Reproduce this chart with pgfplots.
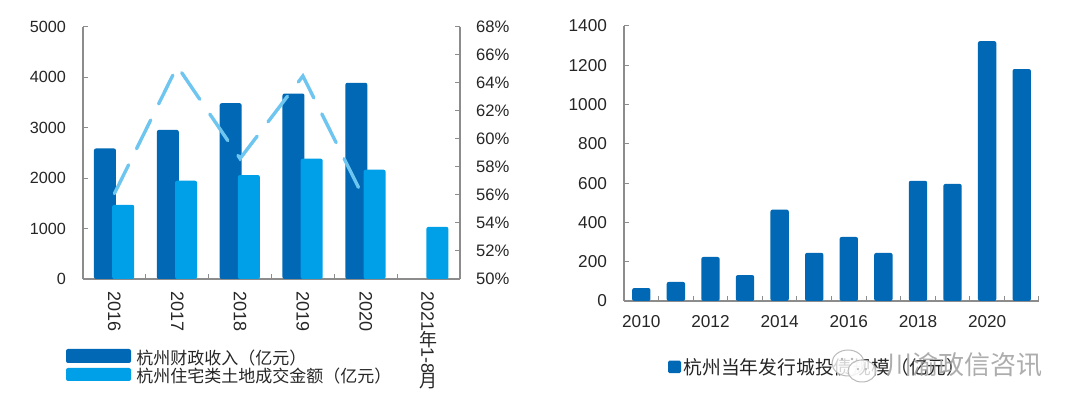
\documentclass[border=0pt]{standalone}
\usepackage{fontspec}
\setmainfont{Liberation Sans}
\newfontfamily\cjk{Noto Sans CJK SC}
\usepackage{graphicx}
\usepackage{pgfplots}
\pgfplotsset{compat=1.18}
\definecolor{darkb}{HTML}{0068B5}
\definecolor{lightb}{HTML}{00A0E9}
\definecolor{lineb}{HTML}{6EC6F0}
\definecolor{axisg}{HTML}{8C8C8C}
\definecolor{txt}{HTML}{262626}
\pgfplotsset{
  common/.style={
    scale only axis,
    anchor=south west,
    axis line style={draw=axisg, line width=0.6pt},
    tick style={draw=axisg, line width=0.5pt},
    major tick length=2.4pt,
    minor tick length=2.4pt,
    /pgf/number format/assume math mode=true,
    /pgf/number format/1000 sep={},
    tick label style={text=txt},
    clip=false,
  }
}
\begin{document}
\begin{tikzpicture}
\path[use as bounding box] (0,0) rectangle (540pt,205.5pt);

% ---------- left chart: bars ----------
\begin{axis}[common,
  at={(41.5pt,66pt)}, width=188.5pt, height=126pt,
  xmin=-0.5, xmax=5.5, ymin=0, ymax=5000,
  axis y line*=left, axis x line*=bottom,
  ytick={0,1000,...,5000},
  yticklabel style={font=\fontsize{8.1}{9}\selectfont, xshift=-5pt},
  xtick={0,...,5},
  xticklabels={2016,2017,2018,2019,2020,{2021\raisebox{-0.1em}{\rotatebox{90}{\cjk 年}}1-8\raisebox{-0.1em}{\rotatebox{90}{\cjk 月}}}},
  xticklabel style={font=\fontsize{9}{10}\selectfont, yshift=-2.5pt, rotate=-90, anchor=west},
  major x tick style={draw=none},
  minor xtick={0.5,1.5,...,4.5},
]
\addplot[ybar, bar width=0.35, bar shift=-0.15, fill=darkb, draw=none, rounded corners=1pt]
  coordinates {(0,2590) (1,2957) (2,3488) (3,3680) (4,3893)};
\addplot[ybar, bar width=0.35, bar shift=0.14, fill=lightb, draw=none, rounded corners=1pt]
  coordinates {(0,1472) (1,1950) (2,2062) (3,2387) (4,2168) (5,1034)};
\end{axis}

% ---------- left chart: ratio line ----------
\begin{axis}[common,
  at={(41.5pt,66pt)}, width=188.5pt, height=126pt,
  xmin=-0.5, xmax=5.5, ymin=50, ymax=68,
  axis y line*=right, axis x line=none,
  ytick={50,52,...,68},
  yticklabel={\pgfmathprintnumber{\tick}\%},
  yticklabel style={font=\fontsize{8.3}{9}\selectfont, xshift=4.5pt},
]
\addplot[lineb, line width=1.7pt, line cap=round, dash pattern=on 16pt off 9pt]
  coordinates {(0,56.1) (1,65.2) (2,58.6) (3,64.5) (4,55.5)};
\end{axis}

% legend (left)
\fill[darkb, rounded corners=1pt] (33pt,24pt) rectangle (65.5pt,31pt);
\fill[lightb, rounded corners=1pt] (33pt,15pt) rectangle (65.5pt,21.5pt);
\node[anchor=west, inner sep=0pt, text=txt, font=\cjk\fontsize{8.5}{9}\selectfont] at (68pt,26.7pt) {杭州财政收入（亿元）};
\node[anchor=west, inner sep=0pt, text=txt, font=\cjk\fontsize{8.5}{9}\selectfont] at (68pt,17.3pt) {杭州住宅类土地成交金额（亿元）};

% ---------- right chart ----------
\begin{axis}[common,
  at={(312pt,55pt)}, width=207.5pt, height=137.5pt,
  xmin=2009.5, xmax=2021.5, ymin=0, ymax=1400,
  axis y line*=left, axis x line*=bottom,
  ytick={0,200,...,1400},
  yticklabel style={font=\fontsize{8.6}{9}\selectfont, xshift=-5pt},
  xtick={2010,2012,...,2020},
  xticklabel style={font=\fontsize{8.6}{9}\selectfont, yshift=-3.5pt},
  major x tick style={draw=none},
  minor xtick={2010.5,2011.5,...,2021.5},
]
\addplot[ybar, bar width=0.53, fill=darkb, draw=none, rounded corners=1pt]
  coordinates {(2010,66) (2011,97) (2012,224) (2013,132) (2014,465) (2015,245)
               (2016,326) (2017,245) (2018,612) (2019,596) (2020,1323) (2021,1181)};
\end{axis}

% legend (right)
\fill[darkb, rounded corners=0.8pt] (334pt,18.9pt) rectangle (340.5pt,25.2pt);
\node[anchor=west, inner sep=0pt, text=txt, font=\cjk\fontsize{9.4}{10}\selectfont] at (341.5pt,22pt) {杭州当年发行城投债规模（亿元）};

% watermark
\begin{scope}[draw=gray!55, line width=0.5pt]
\filldraw[fill=white, fill opacity=0.8] (424pt,24pt) ellipse [x radius=8pt, y radius=6.5pt];
\filldraw[fill=white, fill opacity=0.8] (431pt,20pt) ellipse [x radius=7pt, y radius=5.5pt];
\fill[gray!60] (421pt,26pt) circle [radius=0.7pt] (426pt,26pt) circle [radius=0.7pt];
\fill[gray!60] (429pt,21pt) circle [radius=0.6pt] (433pt,21pt) circle [radius=0.6pt];
\end{scope}
\node[anchor=west, inner sep=0pt, text=gray!75, opacity=0.85, font=\cjk\fontsize{13}{14}\selectfont] at (443pt,23pt) {川渝政信咨讯};
\end{tikzpicture}
\end{document}
